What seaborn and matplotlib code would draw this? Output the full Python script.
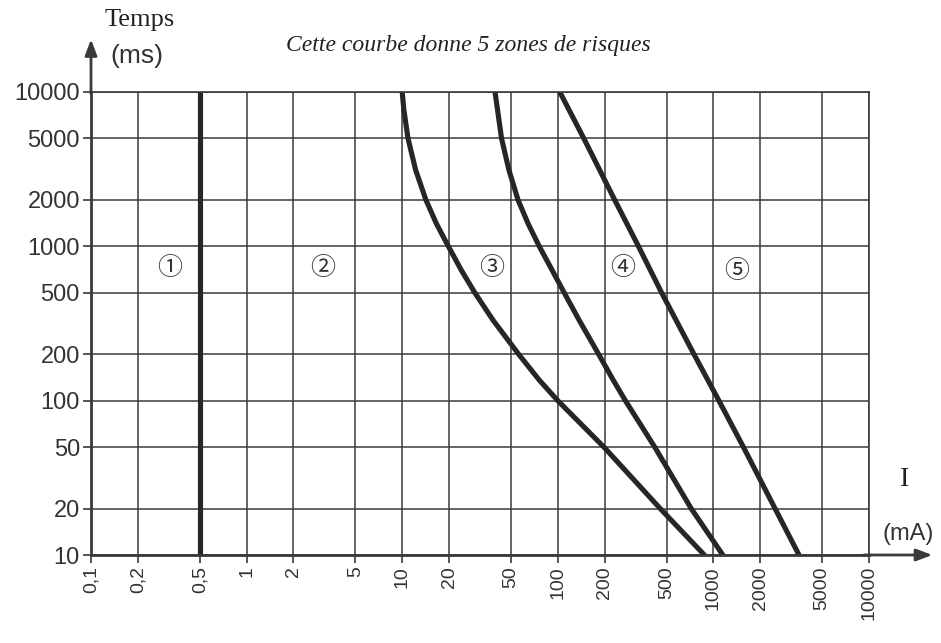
import matplotlib
matplotlib.use('Agg')
import matplotlib.pyplot as plt
import seaborn as sns
import pandas as pd
from matplotlib.ticker import FixedLocator, NullLocator

# axis ticks
current_ticks = [0.1, 0.2, 0.5, 1, 2, 5, 10, 20, 50, 100, 200, 500, 1000, 2000, 5000, 10000]
current_labels = ['0,1', '0,2', '0,5', '1', '2', '5', '10', '20', '50', '100',
                  '200', '500', '1000', '2000', '5000', '10000']
time_ticks = [10, 20, 50, 100, 200, 500, 1000, 2000, 5000, 10000]
time_labels = [str(t) for t in time_ticks]

# curves (current in mA, time in ms)
curve_a_ms = [10000, 10]
curve_a_ma = [0.5, 0.5]

curve_b_ms = [10000, 7660, 5000, 3125, 2000, 1400, 1000, 700, 500, 333, 200, 136, 100, 50, 20, 10]
curve_b_ma = [10, 10.25, 10.9, 12.2, 14.2, 16.6, 19.8, 24, 29.3, 38.3, 56, 76, 100, 198, 455, 875]

curve_c_ms = [10000, 5000, 3125, 2000, 1400, 1000, 700, 500, 333, 200, 136, 100, 50, 20, 10]
curve_c_ma = [39.5, 43.5, 48.5, 55.5, 64.5, 76, 92, 110, 137, 183, 227, 272, 420, 720, 1150]

curve_d_ms = [10000, 5000, 2000, 1000, 500, 200, 100, 50, 20, 10]
curve_d_ma = [103, 147, 232, 330, 465, 750, 1085, 1560, 2490, 3550]

# zone markers
zone_labels = ['①', '②', '③', '④', '⑤']
zone_ma = [0.32, 3.1, 37.7, 262, 1420]
zone_ms = [720, 720, 720, 720, 690]

title_text = 'Cette courbe donne 5 zones de risques'

df = pd.concat([
    pd.DataFrame({'I': curve_a_ma, 't': curve_a_ms, 'courbe': 'a'}),
    pd.DataFrame({'I': curve_b_ma, 't': curve_b_ms, 'courbe': 'b'}),
    pd.DataFrame({'I': curve_c_ma, 't': curve_c_ms, 'courbe': 'c'}),
    pd.DataFrame({'I': curve_d_ma, 't': curve_d_ms, 'courbe': 'd'}),
], ignore_index=True)

sns.set_theme(style='white')
plt.rcParams['font.family'] = ['Liberation Sans', 'DejaVu Sans']

line_col = '#262626'
grid_col = '#3a3a3a'

fig = plt.figure(figsize=(9.41, 6.43), dpi=100)
ax = fig.add_axes([91 / 941, 88 / 643, 778 / 941, 463 / 643])
ax.set_xscale('log')
ax.set_yscale('log')

sns.lineplot(data=df, x='I', y='t', hue='courbe', units='courbe', estimator=None,
             palette={k: line_col for k in 'abcd'}, sort=False, legend=False,
             lw=3.7, ax=ax)

ax.set_xlim(0.1, 10000)
ax.set_ylim(10, 10000)
ax.xaxis.set_major_locator(FixedLocator(current_ticks))
ax.yaxis.set_major_locator(FixedLocator(time_ticks))
ax.xaxis.set_minor_locator(NullLocator())
ax.yaxis.set_minor_locator(NullLocator())
ax.set_xticklabels(current_labels, rotation=90, fontsize=14, color='#333333')
ax.set_yticklabels(time_labels, fontsize=17, color='#333333')
ax.set_xlabel('')
ax.set_ylabel('')
ax.grid(True, color=grid_col, lw=1.1)
ax.tick_params(axis='both', direction='out', length=6, width=1.2, color=grid_col,
               bottom=True, left=True, pad=2)
for side, sp in ax.spines.items():
    sp.set_visible(True)
    sp.set_color(grid_col)
    sp.set_linewidth(2.0 if side in ('left', 'bottom') else 1.2)

for lab, xv, yv in zip(zone_labels, zone_ma, zone_ms):
    ax.text(xv, yv, lab, ha='center', va='center', fontsize=18, color='#333333',
            family=['Noto Sans CJK JP', 'DejaVu Sans'])

# axis arrows
ax.annotate('', xy=(0, 1.12), xytext=(0, 0.99), xycoords='axes fraction',
            arrowprops=dict(arrowstyle='-|>,head_length=0.8,head_width=0.3',
                            color=grid_col, lw=2))
ax.annotate('', xy=(1.085, 0), xytext=(0.99, 0), xycoords='axes fraction',
            arrowprops=dict(arrowstyle='-|>,head_length=0.8,head_width=0.3',
                            color=grid_col, lw=2))

fig.text(140 / 941, 1 - 20 / 643, 'Temps', ha='center', va='center', fontsize=19,
         family='Liberation Serif', color='#222222')
fig.text(137 / 941, 1 - 56 / 643, '(ms)', ha='center', va='center', fontsize=19,
         color='#333333')
fig.text(468 / 941, 1 - 45 / 643, title_text, ha='center', va='center', fontsize=17,
         family='Liberation Serif', style='italic', color='#222222')
fig.text(905 / 941, 1 - 480 / 643, 'I', ha='center', va='center', fontsize=20,
         family='Liberation Serif', color='#222222')
fig.text(908 / 941, 1 - 534 / 643, '(mA)', ha='center', va='center', fontsize=17,
         color='#333333')

plt.savefig('out.png', dpi=100, facecolor='white')
plt.close()
